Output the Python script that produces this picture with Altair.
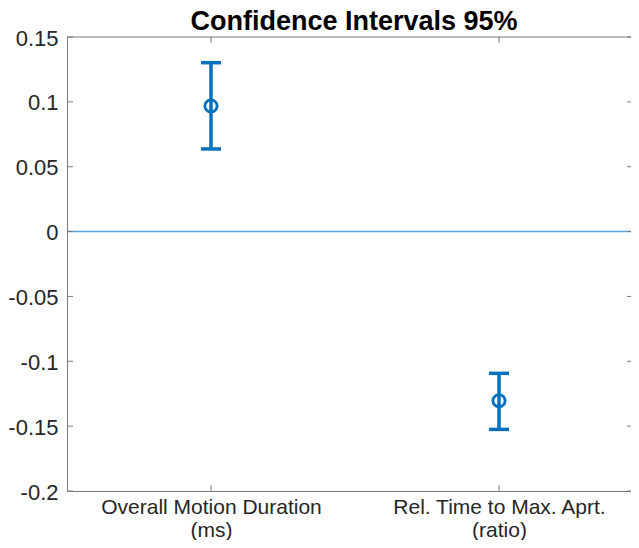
import altair as alt
import pandas as pd

# ---- data ----
labels_line1 = ["Overall Motion Duration", "Rel. Time to Max. Aprt."]
labels_line2 = ["(ms)", "(ratio)"]
positions = [1, 2]
means = [0.0968, -0.1304]
lower = [0.0637, -0.1525]
upper = [0.1302, -0.1093]
y_ticks = [0.15, 0.1, 0.05, 0, -0.05, -0.1, -0.15, -0.2]
zero_line = [0]
title_text = ["Confidence Intervals 95%"]

W, H = 564, 454
BLUE = "#0072BD"
ZERO_BLUE = "#5aa5e0"
AXIS = "#7a7a7a"
TEXT = "#262626"
FONT = "Liberation Sans"

df = pd.DataFrame({"x": positions, "mean": means, "lo": lower, "hi": upper})
ticks_df = pd.DataFrame({"v": y_ticks})
xt_df = pd.DataFrame({"x": positions})
zero_df = pd.DataFrame({"z": zero_line})
one_df = pd.DataFrame({"a": [0]})
title_df = pd.DataFrame({"t": title_text})

xscale = alt.Scale(domain=[0.5, 2.4583], nice=False, zero=False)
yscale = alt.Scale(domain=[-0.2, 0.15], nice=False, zero=False)

label_expr = ""
for p, l1, l2 in zip(positions, labels_line1, labels_line2):
    label_expr += f"datum.value == {p} ? ['{l1}', '{l2}'] : "
label_expr += "''"

xaxis = alt.Axis(values=positions, labelExpr=label_expr, ticks=False, grid=False,
                 domain=True, domainColor=AXIS, domainWidth=1,
                 labelFont=FONT, labelFontSize=21, labelColor=TEXT, labelLimit=0,
                 labelPadding=5, labelLineHeight=23, title=None)
yaxis = alt.Axis(values=y_ticks, labelExpr="'' + datum.value", ticks=False, grid=False,
                 domain=True, domainColor=AXIS, domainWidth=1,
                 labelFont=FONT, labelFontSize=22, labelColor=TEXT, labelLimit=0,
                 labelPadding=9, labelOffset=1, title=None)


def X(f):
    return alt.X(f, scale=xscale, axis=xaxis, title=None)


def Y(f):
    return alt.Y(f, scale=yscale, axis=yaxis, title=None)


zero = alt.Chart(zero_df).mark_rule(color=ZERO_BLUE, strokeWidth=1.6).encode(y=Y("z:Q"))

vline = alt.Chart(df).mark_rule(color=BLUE, strokeWidth=3.5).encode(
    x=X("x:Q"), y=Y("lo:Q"), y2="hi:Q")
cap_hi = alt.Chart(df).mark_rule(color=BLUE, strokeWidth=3.5, xOffset=-10, x2Offset=10).encode(
    x=X("x:Q"), x2="x:Q", y=Y("hi:Q"))
cap_lo = alt.Chart(df).mark_rule(color=BLUE, strokeWidth=3.5, xOffset=-10, x2Offset=10).encode(
    x=X("x:Q"), x2="x:Q", y=Y("lo:Q"))
points = alt.Chart(df).mark_point(shape="circle", size=150, filled=False, color=BLUE,
                                  strokeWidth=2.8, opacity=1).encode(
    x=X("x:Q"), y=Y("mean:Q"))

left_ticks = alt.Chart(ticks_df).mark_rule(color=AXIS, strokeWidth=1).encode(
    y=Y("v:Q"), x=alt.value(0), x2=alt.value(6))
right_ticks = alt.Chart(ticks_df).mark_rule(color=AXIS, strokeWidth=1).encode(
    y=Y("v:Q"), x=alt.value(W - 4), x2=alt.value(W))
top_ticks = alt.Chart(xt_df).mark_rule(color=AXIS, strokeWidth=1).encode(
    x=X("x:Q"), y=alt.value(0), y2=alt.value(6))
bottom_ticks = alt.Chart(xt_df).mark_rule(color=AXIS, strokeWidth=1).encode(
    x=X("x:Q"), y=alt.value(H - 6), y2=alt.value(H))
top_border = alt.Chart(one_df).mark_rule(color=AXIS, strokeWidth=1).encode(
    y=alt.value(0), x=alt.value(0), x2=alt.value(W))

title = alt.Chart(title_df).mark_text(font=FONT, fontSize=27, fontWeight="bold",
                                      color="black", align="center",
                                      baseline="alphabetic").encode(
    text="t:N", x=alt.value(287), y=alt.value(-7))

chart = alt.layer(
    zero, left_ticks, right_ticks, top_ticks, bottom_ticks, top_border,
    vline, cap_hi, cap_lo, points, title
).properties(
    width=W, height=H,
    autosize=alt.AutoSizeParams(type="none"),
    padding={"left": 59, "top": 29, "right": 0, "bottom": 49},
).configure_view(stroke=None)

chart.save("out.html", embed_options={"renderer": "svg", "actions": False})
